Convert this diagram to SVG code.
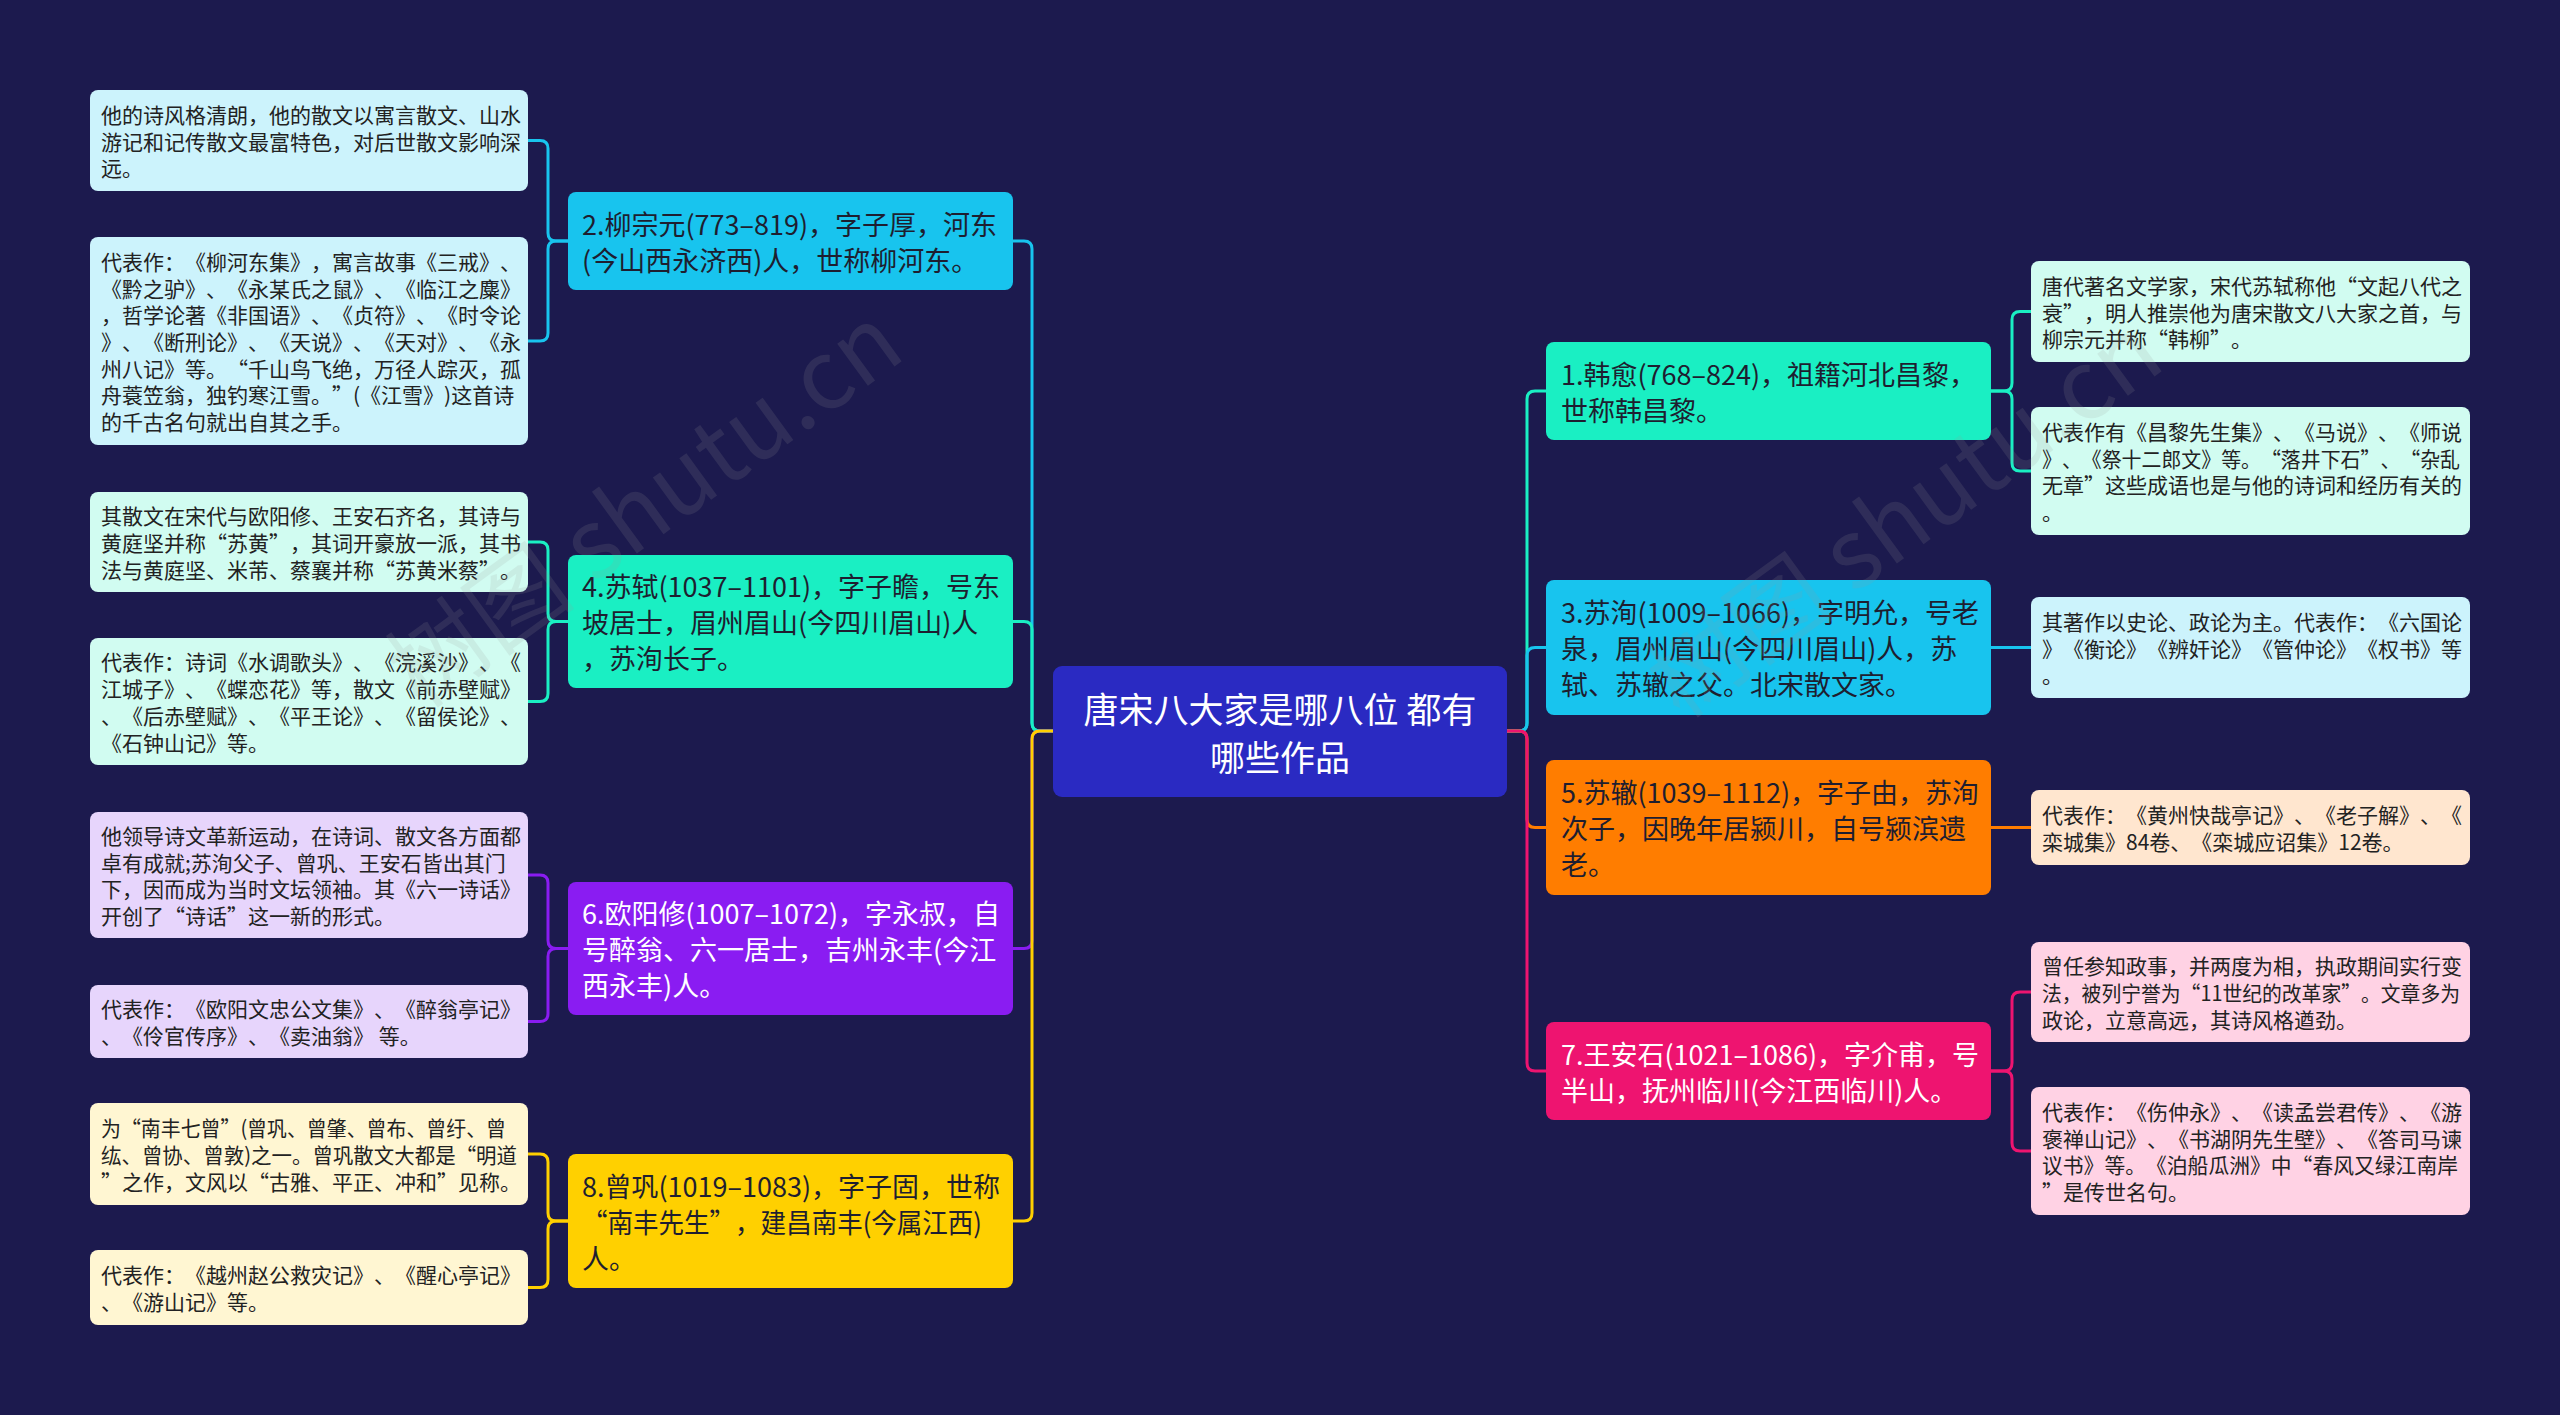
<svg xmlns="http://www.w3.org/2000/svg" width="2560" height="1415" viewBox="0 0 2560 1415">
<style>
text{font-family:'Noto Sans CJK SC','Noto Sans',sans-serif;dominant-baseline:central;text-spacing-trim:space-all}
.t1{font-size:27px}
.t2{font-size:21px;fill:#222}
.dk{fill:#1e1e30}
.wt{fill:#ffffff}
.ctr{font-size:35px;fill:#fff;text-anchor:middle}
.ln{fill:none;stroke-width:3;stroke-linecap:round}
.wm{font-size:96px;fill:#9a9a9a;opacity:0.15;font-family:'Noto Sans CJK SC','Noto Serif',serif}
</style>
<rect width="2560" height="1415" fill="#1c1a4e"/>

<g id="connectors">
  <path class="ln" stroke="#18c4ee" d="M1053,731 H1040 Q1032,731 1032,723 V249 Q1032,241 1024,241 H1013"/>
  <path class="ln" stroke="#1aefc3" d="M1053,731 H1040 Q1032,731 1032,723 V629.5 Q1032,621.5 1024,621.5 H1013"/>
  <path class="ln" stroke="#8a1cf2" d="M1053,731 H1040 Q1032,731 1032,739 V940.5 Q1032,948.5 1024,948.5 H1013"/>
  <path class="ln" stroke="#ffd000" d="M1053,731 H1040 Q1032,731 1032,739 V1213 Q1032,1221 1024,1221 H1013"/>
  <path class="ln" stroke="#1aefc3" d="M1507,731 H1519 Q1527,731 1527,723 V399 Q1527,391 1535,391 H1546"/>
  <path class="ln" stroke="#18c4ee" d="M1507,731 H1519 Q1527,731 1527,723 V655.5 Q1527,647.5 1535,647.5 H1546"/>
  <path class="ln" stroke="#ff7d00" d="M1507,731 H1519 Q1527,731 1527,739 V819.5 Q1527,827.5 1535,827.5 H1546"/>
  <path class="ln" stroke="#ee1470" d="M1507,731 H1519 Q1527,731 1527,739 V1063 Q1527,1071 1535,1071 H1546"/>
  <path class="ln" stroke="#18c4ee" d="M568,241 H556 Q548,241 548,233 V148.5 Q548,140.5 540,140.5 H528"/>
  <path class="ln" stroke="#18c4ee" d="M568,241 H556 Q548,241 548,249 V333 Q548,341 540,341 H528"/>
  <path class="ln" stroke="#1aefc3" d="M568,621.5 H556 Q548,621.5 548,613.5 V550 Q548,542 540,542 H528"/>
  <path class="ln" stroke="#1aefc3" d="M568,621.5 H556 Q548,621.5 548,629.5 V693.5 Q548,701.5 540,701.5 H528"/>
  <path class="ln" stroke="#8a1cf2" d="M568,948.5 H556 Q548,948.5 548,940.5 V883 Q548,875 540,875 H528"/>
  <path class="ln" stroke="#8a1cf2" d="M568,948.5 H556 Q548,948.5 548,956.5 V1013.5 Q548,1021.5 540,1021.5 H528"/>
  <path class="ln" stroke="#ffd000" d="M568,1221 H556 Q548,1221 548,1213 V1162 Q548,1154 540,1154 H528"/>
  <path class="ln" stroke="#ffd000" d="M568,1221 H556 Q548,1221 548,1229 V1279.5 Q548,1287.5 540,1287.5 H528"/>
  <path class="ln" stroke="#1aefc3" d="M1991,391 H2004 Q2012,391 2012,383 V319.5 Q2012,311.5 2020,311.5 H2031"/>
  <path class="ln" stroke="#1aefc3" d="M1991,391 H2004 Q2012,391 2012,399 V463 Q2012,471 2020,471 H2031"/>
  <path class="ln" stroke="#18c4ee" d="M1991,647.5 H2031"/>
  <path class="ln" stroke="#ff7d00" d="M1991,827.5 H2031"/>
  <path class="ln" stroke="#ee1470" d="M1991,1071 H2004 Q2012,1071 2012,1063 V1000 Q2012,992 2020,992 H2031"/>
  <path class="ln" stroke="#ee1470" d="M1991,1071 H2004 Q2012,1071 2012,1079 V1143 Q2012,1151 2020,1151 H2031"/>
</g>

<g id="center">
  <rect x="1053" y="666" width="454" height="131" rx="9" fill="#2a2ac2"/>
  <text class="ctr" x="1280" y="707">唐宋八大家是哪八位 都有</text>
  <text class="ctr" x="1280" y="755">哪些作品</text>
</g>

<g id="n2">
  <rect x="568" y="192" width="445" height="98" rx="8" fill="#18c4ee"/>
  <text class="t1 dk" x="582" y="223">2.柳宗元(773–819)，字子厚，河东</text>
  <text class="t1 dk" x="582" y="259">(今山西永济西)人，世称柳河东。</text>
</g>
<g id="n4">
  <rect x="568" y="555" width="445" height="133" rx="8" fill="#1aefc3"/>
  <text class="t1 dk" x="582" y="585.5">4.苏轼(1037–1101)，字子瞻，号东</text>
  <text class="t1 dk" x="582" y="621.5">坡居士，眉州眉山(今四川眉山)人</text>
  <text class="t1 dk" x="582" y="657.5">，苏洵长子。</text>
</g>
<g id="n6">
  <rect x="568" y="882" width="445" height="133" rx="8" fill="#8a1cf2"/>
  <text class="t1 wt" x="582" y="912.5">6.欧阳修(1007–1072)，字永叔，自</text>
  <text class="t1 wt" x="582" y="948.5">号醉翁、六一居士，吉州永丰(今江</text>
  <text class="t1 wt" x="582" y="984.5">西永丰)人。</text>
</g>
<g id="n8">
  <rect x="568" y="1154" width="445" height="134" rx="8" fill="#ffd000"/>
  <text class="t1 dk" x="582" y="1185">8.曾巩(1019–1083)，字子固，世称</text>
  <text class="t1 dk" x="582" y="1221" textLength="400" lengthAdjust="spacingAndGlyphs">“南丰先生”，建昌南丰(今属江西)</text>
  <text class="t1 dk" x="582" y="1257">人。</text>
</g>
<g id="n1">
  <rect x="1546" y="342" width="445" height="98" rx="8" fill="#1aefc3"/>
  <text class="t1 dk" x="1561" y="373">1.韩愈(768–824)，祖籍河北昌黎，</text>
  <text class="t1 dk" x="1561" y="409">世称韩昌黎。</text>
</g>
<g id="n3">
  <rect x="1546" y="580" width="445" height="135" rx="8" fill="#18c4ee"/>
  <text class="t1 dk" x="1561" y="611.5">3.苏洵(1009–1066)，字明允，号老</text>
  <text class="t1 dk" x="1561" y="647.5">泉，眉州眉山(今四川眉山)人，苏</text>
  <text class="t1 dk" x="1561" y="683.5">轼、苏辙之父。北宋散文家。</text>
</g>
<g id="n5">
  <rect x="1546" y="760" width="445" height="135" rx="8" fill="#ff7d00"/>
  <text class="t1 dk" x="1561" y="791.5">5.苏辙(1039–1112)，字子由，苏洵</text>
  <text class="t1 dk" x="1561" y="827.5">次子，因晚年居颍川，自号颍滨遗</text>
  <text class="t1 dk" x="1561" y="863.5">老。</text>
</g>
<g id="n7">
  <rect x="1546" y="1022" width="445" height="98" rx="8" fill="#ee1470"/>
  <text class="t1 wt" x="1561" y="1053">7.王安石(1021–1086)，字介甫，号</text>
  <text class="t1 wt" x="1561" y="1089">半山，抚州临川(今江西临川)人。</text>
</g>

<g id="l2a">
  <rect x="90" y="90" width="438" height="101" rx="8" fill="#ccf3fc"/>
  <text class="t2" x="101" y="113.8">他的诗风格清朗，他的散文以寓言散文、山水</text>
  <text class="t2" x="101" y="140.5">游记和记传散文最富特色，对后世散文影响深</text>
  <text class="t2" x="101" y="167.2">远。</text>
</g>
<g id="l2b">
  <rect x="90" y="237" width="438" height="208" rx="8" fill="#ccf3fc"/>
  <text class="t2" x="101" y="260.9">代表作：《柳河东集》，寓言故事《三戒》、</text>
  <text class="t2" x="101" y="287.6">《黔之驴》、《永某氏之鼠》、《临江之麋》</text>
  <text class="t2" x="101" y="314.3">，哲学论著《非国语》、《贞符》、《时令论</text>
  <text class="t2" x="101" y="341">》、《断刑论》、《天说》、《天对》、《永</text>
  <text class="t2" x="101" y="367.7">州八记》等。“千山鸟飞绝，万径人踪灭，孤</text>
  <text class="t2" x="101" y="394.4">舟蓑笠翁，独钓寒江雪。”(《江雪》)这首诗</text>
  <text class="t2" x="101" y="421.1">的千古名句就出自其之手。</text>
</g>
<g id="l4a">
  <rect x="90" y="492" width="438" height="100" rx="8" fill="#d1fcf1"/>
  <text class="t2" x="101" y="515.3">其散文在宋代与欧阳修、王安石齐名，其诗与</text>
  <text class="t2" x="101" y="542">黄庭坚并称“苏黄”，其词开豪放一派，其书</text>
  <text class="t2" x="101" y="568.7">法与黄庭坚、米芾、蔡襄并称“苏黄米蔡”。</text>
</g>
<g id="l4b">
  <rect x="90" y="638" width="438" height="127" rx="8" fill="#d1fcf1"/>
  <text class="t2" x="101" y="661.45">代表作：诗词《水调歌头》、《浣溪沙》、《</text>
  <text class="t2" x="101" y="688.15">江城子》、《蝶恋花》等，散文《前赤壁赋》</text>
  <text class="t2" x="101" y="714.85">、《后赤壁赋》、《平王论》、《留侯论》、</text>
  <text class="t2" x="101" y="741.55">《石钟山记》等。</text>
</g>
<g id="l6a">
  <rect x="90" y="812" width="438" height="126" rx="8" fill="#e7d5fc"/>
  <text class="t2" x="101" y="834.95">他领导诗文革新运动，在诗词、散文各方面都</text>
  <text class="t2" x="101" y="861.65">卓有成就;苏洵父子、曾巩、王安石皆出其门</text>
  <text class="t2" x="101" y="888.35">下，因而成为当时文坛领袖。其《六一诗话》</text>
  <text class="t2" x="101" y="915.05">开创了“诗话”这一新的形式。</text>
</g>
<g id="l6b">
  <rect x="90" y="985" width="438" height="73" rx="8" fill="#e7d5fc"/>
  <text class="t2" x="101" y="1008.15">代表作：《欧阳文忠公文集》、《醉翁亭记》</text>
  <text class="t2" x="101" y="1034.85">、《伶官传序》、《卖油翁》 等。</text>
</g>
<g id="l8a">
  <rect x="90" y="1103" width="438" height="102" rx="8" fill="#fff6d2"/>
  <text class="t2" x="101" y="1127.3" textLength="405" lengthAdjust="spacingAndGlyphs">为“南丰七曾”(曾巩、曾肇、曾布、曾纡、曾</text>
  <text class="t2" x="101" y="1154" textLength="416" lengthAdjust="spacingAndGlyphs">纮、曾协、曾敦)之一。曾巩散文大都是“明道</text>
  <text class="t2" x="101" y="1180.7">”之作，文风以“古雅、平正、冲和”见称。</text>
</g>
<g id="l8b">
  <rect x="90" y="1250" width="438" height="75" rx="8" fill="#fff6d2"/>
  <text class="t2" x="101" y="1274.15">代表作：《越州赵公救灾记》、《醒心亭记》</text>
  <text class="t2" x="101" y="1300.85">、《游山记》等。</text>
</g>

<g id="l1a">
  <rect x="2031" y="261" width="439" height="101" rx="8" fill="#d1fcf1"/>
  <text class="t2" x="2042" y="284.8">唐代著名文学家，宋代苏轼称他“文起八代之</text>
  <text class="t2" x="2042" y="311.5">衰”，明人推崇他为唐宋散文八大家之首，与</text>
  <text class="t2" x="2042" y="338.2">柳宗元并称“韩柳”。</text>
</g>
<g id="l1b">
  <rect x="2031" y="407" width="439" height="128" rx="8" fill="#d1fcf1"/>
  <text class="t2" x="2042" y="430.95">代表作有《昌黎先生集》、《马说》、《师说</text>
  <text class="t2" x="2042" y="457.65" textLength="418" lengthAdjust="spacingAndGlyphs">》、《祭十二郎文》等。“落井下石”、“杂乱</text>
  <text class="t2" x="2042" y="484.35">无章”这些成语也是与他的诗词和经历有关的</text>
  <text class="t2" x="2042" y="511.05">。</text>
</g>
<g id="l3">
  <rect x="2031" y="597" width="439" height="101" rx="8" fill="#ccf3fc"/>
  <text class="t2" x="2042" y="620.8">其著作以史论、政论为主。代表作：《六国论</text>
  <text class="t2" x="2042" y="647.5">》《衡论》《辨奸论》《管仲论》《权书》等</text>
  <text class="t2" x="2042" y="674.2">。</text>
</g>
<g id="l5">
  <rect x="2031" y="790" width="439" height="75" rx="8" fill="#ffe6cf"/>
  <text class="t2" x="2042" y="814.15">代表作：《黄州快哉亭记》、《老子解》、《</text>
  <text class="t2" x="2042" y="840.85">栾城集》84卷、《栾城应诏集》12卷。</text>
</g>
<g id="l7a">
  <rect x="2031" y="942" width="439" height="100" rx="8" fill="#ffd2e4"/>
  <text class="t2" x="2042" y="965.3">曾任参知政事，并两度为相，执政期间实行变</text>
  <text class="t2" x="2042" y="992" textLength="418" lengthAdjust="spacingAndGlyphs">法，被列宁誉为“11世纪的改革家”。文章多为</text>
  <text class="t2" x="2042" y="1018.7">政论，立意高远，其诗风格遒劲。</text>
</g>
<g id="l7b">
  <rect x="2031" y="1087" width="439" height="128" rx="8" fill="#ffd2e4"/>
  <text class="t2" x="2042" y="1110.95">代表作：《伤仲永》、《读孟尝君传》、《游</text>
  <text class="t2" x="2042" y="1137.65">褒禅山记》、《书湖阴先生壁》、《答司马谏</text>
  <text class="t2" x="2042" y="1164.35" textLength="416" lengthAdjust="spacingAndGlyphs">议书》等。《泊船瓜洲》中“春风又绿江南岸</text>
  <text class="t2" x="2042" y="1191.05">”是传世名句。</text>
</g>

<g id="watermark">
  <text class="wm" transform="translate(640,500) rotate(-36)" text-anchor="middle">树图 shutu.cn</text>
  <text class="wm" transform="translate(1900,510) rotate(-36)" text-anchor="middle">树图 shutu.cn</text>
</g>
</svg>
